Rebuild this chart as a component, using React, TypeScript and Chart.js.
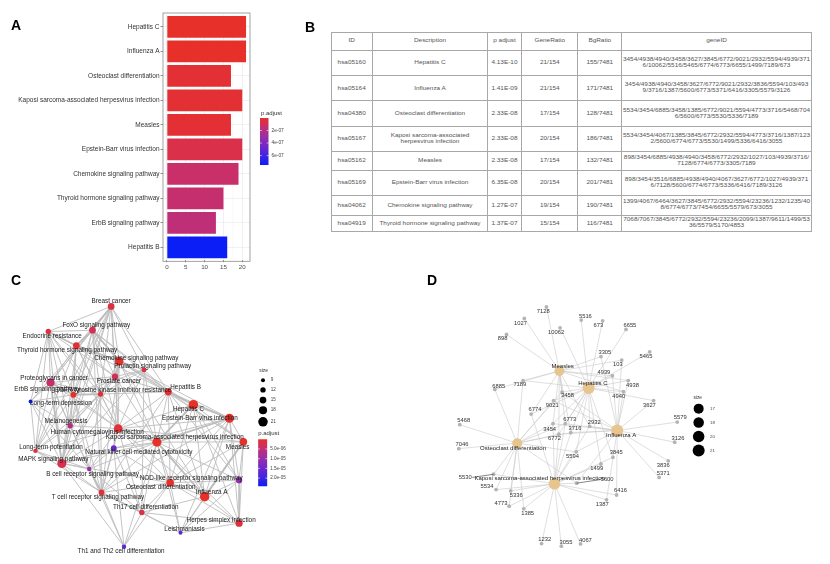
import React, { useEffect, useRef } from "react";
import { Chart, registerables } from "chart.js";
Chart.register(...registerables);

const FONT = "'Liberation Sans', Arial, Helvetica, sans-serif";

/* ================= Panel A : bar chart ================= */
const barTerms = [
  "Hepatitis C",
  "Influenza A",
  "Osteoclast differentiation",
  "Kaposi sarcoma-associated herpesvirus infection",
  "Measles",
  "Epstein-Barr virus infection",
  "Chemokine signaling pathway",
  "Thyroid hormone signaling pathway",
  "ErbB signaling pathway",
  "Hepatitis B",
];
const barCounts = [21, 21, 17, 20, 17, 20, 19, 15, 13, 16];
const barPAdjust = [4.13e-10, 1.41e-9, 2.33e-8, 2.33e-8, 2.33e-8, 6.35e-8, 1.27e-7, 1.37e-7, 1.6e-7, 7.5e-7];
const barXTicks = [0, 5, 10, 15, 20];
const barLegendTicks = [2e-7, 4e-7, 6e-7];

/* ================= Panel B : table ================= */
const tableHeader = ["ID", "Description", "p adjust", "GeneRatio", "BgRatio", "geneID"];
const tableIds = ["hsa05160", "hsa05164", "hsa04380", "hsa05167", "hsa05162", "hsa05169", "hsa04062", "hsa04919"];
const tableDesc = [
  "Hepatitis C",
  "Influenza A",
  "Osteoclast differentiation",
  "Kaposi sarcoma-associated herpesvirus infection",
  "Measles",
  "Epstein-Barr virus infection",
  "Chemokine signaling pathway",
  "Thyroid hormone signaling pathway",
];
const tablePAdj = ["4.13E-10", "1.41E-09", "2.33E-08", "2.33E-08", "2.33E-08", "6.35E-08", "1.27E-07", "1.37E-07"];
const tableGeneRatio = ["21/154", "21/154", "17/154", "20/154", "17/154", "20/154", "19/154", "15/154"];
const tableBgRatio = ["155/7481", "171/7481", "128/7481", "186/7481", "132/7481", "201/7481", "190/7481", "116/7481"];
const tableGeneIds = [
  "3454/4938/4940/3458/3627/3845/6772/9021/2932/5594/4939/3716/10062/5516/5465/6774/6773/6655/1499/7189/673",
  "3454/4938/4940/3458/3627/6772/9021/2932/3836/5594/103/4939/3716/1387/5600/6773/5371/6416/3305/5579/3126",
  "5534/3454/6885/3458/1385/6772/9021/5594/4773/3716/5468/7046/5600/6773/5530/5336/7189",
  "5534/3454/4067/1385/3845/6772/2932/5594/4773/3716/1387/1232/5600/6774/6773/5530/1499/5336/6416/3055",
  "898/3454/6885/4938/4940/3458/6772/2932/1027/103/4939/3716/7128/6774/6773/3305/7189",
  "898/3454/3516/6885/4938/4940/4067/3627/6772/1027/4939/3716/7128/5600/6774/6773/5336/6416/7189/3126",
  "1399/4067/6464/3627/3845/6772/2932/5594/23236/1232/1235/408/6774/6773/7454/6655/5579/673/3055",
  "7068/7067/3845/6772/2932/5594/23236/2099/1387/9611/1499/5336/5579/5170/4853",
];

/* ================= Panel C : enrichment map ================= */
const cTerms = [
  "Breast cancer", "FoxO signaling pathway", "Endocrine resistance", "Thyroid hormone signaling pathway",
  "Chemokine signaling pathway", "Prolactin signaling pathway", "Proteoglycans in cancer", "Prostate cancer",
  "Hepatitis B", "ErbB signaling pathway", "EGFR tyrosine kinase inhibitor resistance", "Long-term depression",
  "Hepatitis C", "Epstein-Barr virus infection", "Melanogenesis", "Human cytomegalovirus infection",
  "Kaposi sarcoma-associated herpesvirus infection", "Measles", "Long-term potentiation",
  "Natural killer cell mediated cytotoxicity", "MAPK signaling pathway", "B cell receptor signaling pathway",
  "NOD-like receptor signaling pathway", "Osteoclast differentiation", "Influenza A",
  "T cell receptor signaling pathway", "Th17 cell differentiation", "Herpes simplex infection",
  "Leishmaniasis", "Th1 and Th2 cell differentiation",
];
const cCodes = ["BC", "FOXO", "ENDO", "THY", "CHEM", "PRL", "PGC", "PROS", "HBV", "ERBB", "EGFR", "LTD", "HCV", "EBV", "MEL", "HCMV", "KSHV", "MEA", "LTP", "NK", "MAPK", "BCR", "NOD", "OST", "FLU", "TCR", "TH17", "HSV", "LEI", "TH12"];
const cCounts = [15, 15, 12, 15, 19, 11, 18, 14, 16, 13, 12, 9, 21, 20, 12, 19, 20, 17, 10, 13, 20, 10, 14, 17, 21, 13, 12, 16, 9, 10];
const cPAdjust = [1.5e-6, 2.9e-6, 1.2e-6, 8e-7, 1.27e-7, 1.5e-6, 4.3e-6, 2.9e-6, 7.5e-7, 1.6e-7, 1e-6, 2.42e-5, 4.13e-10, 6.35e-8, 6e-6, 9e-7, 2.33e-8, 2.33e-8, 1.1e-6, 1.56e-5, 2.2e-6, 9.6e-6, 1.08e-5, 2.33e-8, 1.41e-9, 1.1e-6, 1.6e-6, 1.4e-6, 1.65e-5, 1.6e-5];
// layout coordinates of the graph layout
const cNodeX = [110, 90.7, 45, 74, 118.3, 144, 47.3, 114, 169, 71, 99, 26.7, 195, 232.3, 67.7, 117.3, 157.3, 246.7, 31.7, 112.7, 59, 87.3, 242.3, 171, 206.7, 100, 141.7, 242.3, 181.7, 123.3];
const cNodeY = [32.7, 57.3, 58.7, 73.3, 89.3, 98.3, 111.3, 105.3, 121, 124, 123.3, 131, 134.3, 148.3, 156, 159, 173, 172.7, 182, 179.3, 195, 200.7, 212.3, 215, 229.3, 225, 245.7, 256.7, 266.7, 281];
const cLabelX = [110, 94.7, 49, 64.5, 136, 153, 51, 118, 187, 44, 112, 58, 190, 201.7, 63.3, 95.5, 175.8, 240.8, 47.8, 138.7, 50.3, 90.8, 192.8, 161.3, 214, 96.3, 145.8, 223.7, 185.8, 120.3];
const cLabelY = [27.3, 52.3, 64, 78.3, 86, 94.3, 106.7, 110, 116.7, 118.3, 119, 132.7, 139.3, 148.3, 151.7, 162.7, 168.3, 178.3, 178.3, 183.3, 190.7, 206, 210, 220, 225, 230, 240.7, 253.3, 263.3, 286];
const cEdges =
  "BC-FOXO BC-ENDO BC-THY BC-CHEM BC-PRL BC-PGC BC-PROS BC-HBV BC-ERBB BC-EGFR BC-HCMV BC-MAPK BC-MEL BC-LTP " +
  "FOXO-ENDO FOXO-THY FOXO-CHEM FOXO-PRL FOXO-PGC FOXO-PROS FOXO-HBV FOXO-ERBB FOXO-EGFR FOXO-HCMV FOXO-MAPK FOXO-LTD FOXO-TCR " +
  "ENDO-THY ENDO-PGC ENDO-PROS ENDO-ERBB ENDO-EGFR ENDO-MEL ENDO-MAPK ENDO-LTP ENDO-HCMV ENDO-LTD " +
  "THY-CHEM THY-PGC THY-PROS THY-ERBB THY-EGFR THY-HCMV THY-MEL THY-MAPK THY-LTP THY-HBV THY-PRL " +
  "CHEM-PRL CHEM-PROS CHEM-HBV CHEM-EGFR CHEM-HCMV CHEM-KSHV CHEM-HCV CHEM-EBV CHEM-NK CHEM-TCR CHEM-FLU CHEM-MEA " +
  "PRL-PROS PRL-ERBB PRL-EGFR PRL-HBV PRL-KSHV PRL-HCMV PRL-TH17 PRL-MAPK " +
  "PGC-PROS PGC-ERBB PGC-EGFR PGC-MEL PGC-MAPK PGC-LTD PGC-LTP PGC-HCMV PGC-BCR " +
  "PROS-ERBB PROS-EGFR PROS-HBV PROS-HCMV PROS-MAPK PROS-MEL PROS-KSHV " +
  "HBV-HCV HBV-EBV HBV-KSHV HBV-MEA HBV-FLU HBV-OST HBV-HCMV HBV-EGFR HBV-NOD HBV-TCR " +
  "ERBB-EGFR ERBB-MEL ERBB-MAPK ERBB-LTD ERBB-LTP ERBB-HCMV ERBB-BCR ERBB-TCR " +
  "EGFR-HCMV EGFR-MAPK EGFR-MEL EGFR-LTP EGFR-BCR EGFR-TCR EGFR-KSHV " +
  "LTD-MEL LTD-LTP LTD-MAPK LTD-BCR " +
  "HCV-EBV HCV-KSHV HCV-MEA HCV-FLU HCV-OST HCV-NOD HCV-HSV HCV-HCMV " +
  "EBV-KSHV EBV-MEA EBV-FLU EBV-OST EBV-NOD EBV-HSV EBV-HCMV EBV-NK EBV-LEI EBV-TCR " +
  "MEL-MAPK MEL-LTP MEL-HCMV MEL-BCR " +
  "HCMV-KSHV HCMV-MAPK HCMV-NK HCMV-TCR HCMV-BCR HCMV-OST HCMV-FLU HCMV-TH17 HCMV-MEA HCMV-LTP " +
  "KSHV-MEA KSHV-FLU KSHV-OST KSHV-NOD KSHV-HSV KSHV-NK KSHV-TCR KSHV-TH17 KSHV-LEI KSHV-BCR KSHV-MAPK KSHV-TH12 " +
  "MEA-FLU MEA-NOD MEA-HSV MEA-OST MEA-LEI LTP-MAPK LTP-BCR LTP-TCR " +
  "NK-TCR NK-BCR NK-TH17 NK-OST NK-TH12 NK-MAPK MAPK-BCR MAPK-TCR MAPK-TH12 MAPK-OST " +
  "BCR-TCR BCR-TH17 BCR-TH12 NOD-FLU NOD-OST NOD-HSV NOD-LEI " +
  "OST-FLU OST-HSV OST-LEI OST-TH17 OST-TCR OST-TH12 FLU-HSV FLU-LEI FLU-TH17 " +
  "TCR-TH17 TCR-TH12 TCR-LEI TH17-TH12 TH17-LEI TH17-HSV HSV-LEI";
const cStrongEdges = "BC-FOXO FOXO-THY ENDO-THY CHEM-PROS PGC-ERBB ERBB-EGFR HCV-EBV HCV-KSHV EBV-KSHV HBV-HCV MEA-FLU KSHV-FLU BCR-TCR TCR-TH17 FOXO-CHEM THY-CHEM PGC-MAPK HCMV-KSHV";
const cSizeLegend = [9, 12, 15, 18, 21];
const cColorTicks = [5e-6, 1e-5, 1.5e-5, 2e-5];

/* ================= Panel D : gene-concept network ================= */
const dCats = ["Measles", "Hepatitis C", "Influenza A", "Osteoclast differentiation", "Kaposi sarcoma-associated herpesvirus infection"];
const dCatCounts = [17, 21, 21, 17, 20];
const dCatX = [188.3, 218.3, 247.7, 145, 183.3];
const dCatY = [99, 116.7, 161, 174.3, 216.7];
const dCatLX = [191.7, 222.7, 251.7, 140.7, 168];
const dCatLY = [94.3, 111.7, 165.7, 179.3, 211];
const dGenes = ["7128", "1027", "5516", "673", "6655", "10062", "898", "3305", "5465", "103", "4939", "4938", "6885", "7189", "3458", "4940", "3627", "9021", "6774", "6773", "2932", "5468", "5579", "3454", "3716", "6772", "3126", "7046", "5594", "3845", "3836", "5371", "1499", "5530", "5600", "5534", "5336", "6416", "4773", "1387", "1385", "1232", "3055", "4067"];
const dGeneX = [175, 152.3, 210.7, 232.7, 256.7, 189, 134, 231, 281, 252.3, 242.7, 259, 122, 151, 191, 254, 285, 182.3, 159.3, 194.3, 219.3, 86, 309.3, 181.7, 200, 187.7, 306.7, 85, 205.7, 243.3, 300, 290.7, 231, 120.7, 206, 123.3, 138.3, 247, 136.7, 236.7, 151.7, 170, 190.3, 210];
const dGeneY = [32.3, 44.3, 46, 46.7, 55.7, 54, 61, 84, 79, 87.7, 104, 109, 118.3, 109, 121, 120.7, 130, 130, 144, 154, 156.7, 155, 152.3, 154, 163.3, 165, 173.3, 180, 183.3, 189, 192.7, 210, 196, 206.7, 216, 222.7, 224, 228.3, 240, 233.3, 242.7, 279, 281.7, 279.3];
const dGeneLX = [171.7, 148.3, 215, 228.3, 260.7, 185, 130, 235, 277.3, 248.3, 234, 263.3, 126, 147.7, 196.7, 249.3, 280.7, 181, 163.3, 199, 224, 90, 312.3, 178.3, 204.3, 183.3, 310, 88.3, 201.7, 246.7, 295, 295, 226.7, 91.7, 237.3, 114, 144, 251, 128.3, 232.3, 155.7, 173.3, 195, 215];
const dGeneLY = [36.7, 49, 42, 51.3, 51.3, 58.7, 65.3, 79.3, 84, 92, 100.7, 113.7, 114.7, 113.3, 124.7, 125.3, 135, 134.7, 139.3, 149, 152.7, 150.7, 147.7, 159.7, 159, 169.3, 169.3, 175.7, 188.3, 184.3, 197.3, 205.3, 200.3, 210, 212.3, 219, 228.7, 224, 236.7, 238.3, 247.7, 275, 277.3, 275.3];
const dLeaderGenes = ["5530", "5600"];
const dSizeLegend = [17, 18, 20, 21];

/* ================= helpers ================= */
const PAL_T = [0, 0.1, 0.2, 0.4, 0.6, 0.8, 1];
const PAL_C = ["#e8302a", "#d7304f", "#c22f74", "#9a2ea6", "#7128c8", "#4424e0", "#0a1ef5"];
function toRgb(h: string) {
  return [1, 3, 5].map((i) => parseInt(h.slice(i, i + 2), 16));
}
function palette(t: number) {
  t = Math.max(0, Math.min(1, t));
  let i = 0;
  while (i < PAL_T.length - 2 && t > PAL_T[i + 1]) i++;
  const f = (t - PAL_T[i]) / (PAL_T[i + 1] - PAL_T[i]);
  const a = toRgb(PAL_C[i]);
  const b = toRgb(PAL_C[i + 1]);
  return `rgb(${a.map((v, k) => Math.round(v + (b[k] - v) * f)).join(",")})`;
}
function expLabel(v: number, digits: number) {
  return v.toExponential(digits).replace(/e([+-])(\d)$/, (_m, s, d) => `e${s}0${d}`);
}
function text(ctx: CanvasRenderingContext2D, s: string, x: number, y: number, size: number, color: string, align: CanvasTextAlign = "center") {
  ctx.font = `${size}px ${FONT}`;
  ctx.fillStyle = color;
  ctx.textAlign = align;
  ctx.textBaseline = "middle";
  ctx.fillText(s, x, y);
}
function gradientBar(ctx: CanvasRenderingContext2D, x: number, y: number, w: number, h: number) {
  const g = ctx.createLinearGradient(0, y, 0, y + h);
  PAL_T.forEach((t, i) => g.addColorStop(t, PAL_C[i]));
  ctx.fillStyle = g;
  ctx.fillRect(x, y, w, h);
}
const cRadius = (n: number) => 2 + (n - 9) * 0.23;
const dRadius = (n: number) => 5 + (n - 17) * 0.25;

/* ================= chart configs ================= */
function barConfig(): any {
  const pMin = Math.min(...barPAdjust);
  const pMax = Math.max(...barPAdjust);
  const colors = barPAdjust.map((p) => palette((p - pMin) / (pMax - pMin)));
  const plugin = {
    id: "panelA",
    beforeDatasetsDraw(chart: any) {
      const { ctx, chartArea: a, scales } = chart;
      ctx.save();
      ctx.strokeStyle = "#f3f3f3";
      ctx.lineWidth = 0.5;
      for (let i = 0; i < barXTicks.length - 1; i++) {
        const px = scales.x.getPixelForValue((barXTicks[i] + barXTicks[i + 1]) / 2);
        ctx.beginPath();
        ctx.moveTo(px, a.top);
        ctx.lineTo(px, a.bottom);
        ctx.stroke();
      }
      ctx.restore();
    },
    afterDraw(chart: any) {
      const { ctx, chartArea: a } = chart;
      ctx.save();
      ctx.strokeStyle = "#8c8c8c";
      ctx.lineWidth = 0.8;
      ctx.strokeRect(a.left, a.top - 1.6, a.right - a.left, a.bottom - a.top + 3.2);
      // colour legend
      const lx = 260, ly = 118, lw = 8.5, lh = 47;
      text(ctx, "p.adjust", 261, 113.5, 6, "#333", "left");
      gradientBar(ctx, lx, ly, lw, lh);
      barLegendTicks.forEach((v) => {
        const y = ly + ((v - pMin) / (pMax - pMin)) * lh;
        ctx.strokeStyle = "#fff";
        ctx.lineWidth = 0.6;
        ctx.beginPath();
        ctx.moveTo(lx, y); ctx.lineTo(lx + 1.8, y);
        ctx.moveTo(lx + lw - 1.8, y); ctx.lineTo(lx + lw, y);
        ctx.stroke();
        text(ctx, expLabel(v, 0), lx + lw + 3, y, 4.8, "#444", "left");
      });
      ctx.restore();
    },
  };
  return {
    type: "bar",
    data: {
      labels: barTerms,
      datasets: [{ data: barCounts, backgroundColor: colors, borderWidth: 0, barPercentage: 0.885, categoryPercentage: 1 }],
    },
    options: {
      indexAxis: "y",
      animation: false,
      responsive: false,
      events: [],
      layout: { padding: { top: 14.6, right: 40, left: 0, bottom: 0 } },
      plugins: { legend: { display: false }, tooltip: { enabled: false } },
      scales: {
        x: {
          type: "linear",
          min: -1.05,
          max: 22.05,
          afterBuildTicks: (s: any) => { s.ticks = barXTicks.map((v) => ({ value: v })); },
          afterFit: (s: any) => { s.height = 15.3; },
          grid: { color: "#ebebeb", lineWidth: 0.7, tickLength: 2.5, tickColor: "#444", tickWidth: 0.6 },
          border: { display: false },
          ticks: { font: { family: FONT, size: 6.2 }, color: "#4d4d4d", padding: 1, maxRotation: 0, autoSkip: false },
        },
        y: {
          type: "category",
          afterFit: (s: any) => { s.width = 163; },
          grid: { offset: false, color: "#ebebeb", lineWidth: 0.7, tickLength: 2.5, tickColor: "#444", tickWidth: 0.6 },
          border: { display: false },
          ticks: { font: { family: FONT, size: 6.5 }, color: "#333", padding: 1, autoSkip: false },
        },
      },
    },
    plugins: [plugin],
  };
}

type NetSpec = {
  w: number; h: number;
  nx: number[]; ny: number[]; nr: number[]; nc: string[];
  edges: [number, number, number][];
  edgeColor: string;
  draw: (ctx: CanvasRenderingContext2D, px: (v: number) => number, py: (v: number) => number) => void;
};
function netConfig(n: NetSpec): any {
  const edgeData: { x: number; y: number }[] = [];
  n.edges.forEach(([a, b]) => {
    edgeData.push({ x: n.nx[a], y: n.ny[a] }, { x: n.nx[b], y: n.ny[b] }, { x: NaN, y: NaN });
  });
  return {
    type: "scatter",
    data: {
      datasets: [
        {
          type: "scatter",
          data: n.nx.map((x, i) => ({ x, y: n.ny[i] })),
          pointRadius: n.nr,
          pointHoverRadius: n.nr,
          backgroundColor: n.nc,
          borderWidth: 0,
          order: 0,
        },
        {
          type: "line",
          data: edgeData,
          borderColor: n.edgeColor,
          borderWidth: 1,
          pointRadius: 0,
          fill: false,
          tension: 0,
          spanGaps: false,
          order: 1,
          segment: { borderWidth: (ctx: any) => n.edges[Math.floor(ctx.p0DataIndex / 3)][2] },
        },
      ],
    },
    options: {
      animation: false,
      responsive: false,
      events: [],
      layout: { padding: 0 },
      plugins: { legend: { display: false }, tooltip: { enabled: false } },
      scales: {
        x: { type: "linear", min: 0, max: n.w, display: false },
        y: { type: "linear", min: 0, max: n.h, reverse: true, display: false },
      },
    },
    plugins: [
      {
        id: "netText",
        afterDraw(chart: any) {
          const ctx = chart.ctx as CanvasRenderingContext2D;
          ctx.save();
          n.draw(ctx, (v) => chart.scales.x.getPixelForValue(v), (v) => chart.scales.y.getPixelForValue(v));
          ctx.restore();
        },
      },
    ],
  };
}

function emapConfig(): any {
  const idx = (c: string) => cCodes.indexOf(c);
  const strong = new Set(cStrongEdges.split(" "));
  const edges: [number, number, number][] = cEdges.split(" ").filter(Boolean).map((e) => {
    const [a, b] = e.split("-");
    return [idx(a), idx(b), strong.has(e) ? 1.8 : 0.9];
  });
  const pMin = Math.min(...cPAdjust);
  const pMax = Math.max(...cPAdjust);
  const W = 290, H = 294;
  return netConfig({
    w: W, h: H,
    nx: cNodeX, ny: cNodeY,
    nr: cCounts.map(cRadius),
    nc: cPAdjust.map((p) => palette((p - pMin) / (pMax - pMin))),
    edges,
    edgeColor: "#bdbdbd",
    draw: (ctx, px, py) => {
      cTerms.forEach((t, i) => text(ctx, t, px(cLabelX[i]), py(cLabelY[i]), 6.35, "#1a1a1a"));
      // size legend
      text(ctx, "size", px(263), py(99), 5, "#333", "left");
      const ys = [109, 119, 129.5, 140, 152];
      cSizeLegend.forEach((s, i) => {
        ctx.fillStyle = "#000";
        ctx.beginPath();
        ctx.arc(px(267), py(ys[i]), cRadius(s), 0, Math.PI * 2);
        ctx.fill();
        text(ctx, String(s), px(275), py(ys[i]), 4.6, "#444", "left");
      });
      // colour legend
      text(ctx, "p.adjust", px(262), py(164), 6, "#333", "left");
      const bx = px(262), by = py(170), bw = 9, bh = 47;
      gradientBar(ctx, bx, by, bw, bh);
      cColorTicks.forEach((v) => {
        const y = by + ((v - pMin) / (pMax - pMin)) * bh;
        ctx.strokeStyle = "#fff";
        ctx.lineWidth = 0.6;
        ctx.beginPath();
        ctx.moveTo(bx, y); ctx.lineTo(bx + 1.8, y);
        ctx.moveTo(bx + bw - 1.8, y); ctx.lineTo(bx + bw, y);
        ctx.stroke();
        text(ctx, expLabel(v, 1), bx + bw + 3, y, 4.6, "#444", "left");
      });
    },
  });
}

function cnetConfig(): any {
  const nx = [...dCatX, ...dGeneX];
  const ny = [...dCatY, ...dGeneY];
  const nr = [...dCatCounts.map(dRadius), ...dGenes.map(() => 1.9)];
  const nc = [...dCats.map(() => "#e8c48e"), ...dGenes.map(() => "#b4b4b4")];
  const edges: [number, number, number][] = [];
  dCats.forEach((cat, ci) => {
    const row = tableDesc.indexOf(cat);
    tableGeneIds[row].split("/").forEach((g) => {
      const gi = dGenes.indexOf(g);
      if (gi >= 0) edges.push([ci, dCats.length + gi, 0.6]);
    });
  });
  return netConfig({
    w: 460, h: 294,
    nx, ny, nr, nc,
    edges,
    edgeColor: "#cacaca",
    draw: (ctx, px, py) => {
      dGenes.forEach((g, i) => {
        const lx = px(dGeneLX[i]), ly = py(dGeneLY[i]);
        if (dLeaderGenes.includes(g)) {
          ctx.font = `5.8px ${FONT}`;
          const half = ctx.measureText(g).width / 2 + 0.5;
          const gx = px(dGeneX[i]), gy = py(dGeneY[i]);
          const sx = gx > lx ? lx + half : lx - half;
          ctx.strokeStyle = "#333";
          ctx.lineWidth = 0.6;
          ctx.beginPath();
          ctx.moveTo(sx, ly);
          ctx.lineTo(gx, gy);
          ctx.stroke();
        }
        text(ctx, g, lx, ly, 5.8, "#333");
      });
      dCats.forEach((c, i) => text(ctx, c, px(dCatLX[i]), py(dCatLY[i]), 6, "#222"));
      // size legend
      text(ctx, "size", px(326), py(126.7), 4.8, "#333", "left");
      const ys = [138.3, 152.7, 167.3, 182];
      dSizeLegend.forEach((s, i) => {
        ctx.fillStyle = "#000";
        ctx.beginPath();
        ctx.arc(px(331.3), py(ys[i]), dRadius(s), 0, Math.PI * 2);
        ctx.fill();
        text(ctx, String(s), px(343), py(ys[i]), 4.4, "#444", "left");
      });
    },
  });
}

/* ================= components ================= */
function ChartBox({ left, top, width, height, make }: { left: number; top: number; width: number; height: number; make: () => any }) {
  const ref = useRef<HTMLCanvasElement>(null);
  useEffect(() => {
    const chart = new Chart(ref.current as HTMLCanvasElement, make());
    return () => chart.destroy();
  }, []);
  return (
    <div style={{ position: "absolute", left, top, width, height }}>
      <canvas ref={ref} width={width} height={height} style={{ width, height, display: "block" }} />
    </div>
  );
}

const tableColW = [42.3, 114.4, 34.6, 56, 44, 189.4];
const tableRowH = [19, 25.5, 25, 25.5, 25.5, 18.5, 25, 20, 16];

function Table() {
  const rows: string[][] = [tableHeader];
  tableIds.forEach((id, i) => rows.push([id, tableDesc[i], tablePAdj[i], tableGeneRatio[i], tableBgRatio[i], tableGeneIds[i]]));
  const colX: number[] = [];
  tableColW.reduce((acc, w) => { colX.push(acc); return acc + w; }, 0);
  const rowY: number[] = [];
  tableRowH.reduce((acc, h) => { rowY.push(acc); return acc + h; }, 0);
  const totalW = tableColW.reduce((a, b) => a + b, 0);
  const totalH = tableRowH.reduce((a, b) => a + b, 0);
  return (
    <div style={{ position: "absolute", left: 331, top: 31.7, width: totalW, height: totalH, borderLeft: "1px solid #a8a8a8", borderTop: "1px solid #a8a8a8", boxSizing: "border-box" }}>
      {rows.map((r, ri) =>
        r.map((cell, ci) => (
          <div
            key={`${ri}-${ci}`}
            style={{
              position: "absolute",
              left: colX[ci] - 1,
              top: rowY[ri] - 1,
              width: tableColW[ci],
              height: tableRowH[ri],
              borderRight: "1px solid #a8a8a8",
              borderBottom: "1px solid #a8a8a8",
              boxSizing: "border-box",
              display: "flex",
              alignItems: "center",
              justifyContent: "center",
              overflow: "visible",
            }}
          >
            <div
              style={{
                width: ci === 5 ? 188.8 : tableColW[ci] - 8,
                fontFamily: FONT,
                fontSize: "6.42px",
                lineHeight: "6.9px",
                color: "#555",
                textAlign: "center",
                wordBreak: ci === 5 && ri > 0 ? "break-all" : "normal",
                transform: "scaleY(0.8)",
                whiteSpace: "normal",
              }}
            >
              {cell}
            </div>
          </div>
        ))
      )}
    </div>
  );
}

function Letter({ ch, left, top }: { ch: string; left: number; top: number }) {
  return (
    <div style={{ position: "absolute", left, top, fontFamily: FONT, fontWeight: "bold", fontSize: 14, lineHeight: "14px", color: "#000" }}>{ch}</div>
  );
}

export default function App() {
  return (
    <div style={{ position: "absolute", left: 0, top: 0, width: 830, height: 564, background: "#fff", overflow: "hidden" }}>
      <ChartBox left={0} top={0} width={290} height={275} make={barConfig} />
      <Table />
      <ChartBox left={0} top={270} width={290} height={294} make={emapConfig} />
      <ChartBox left={370} top={270} width={460} height={294} make={cnetConfig} />
      <Letter ch="A" left={11} top={18} />
      <Letter ch="B" left={305} top={20} />
      <Letter ch="C" left={11} top={273} />
      <Letter ch="D" left={427} top={273} />
    </div>
  );
}
